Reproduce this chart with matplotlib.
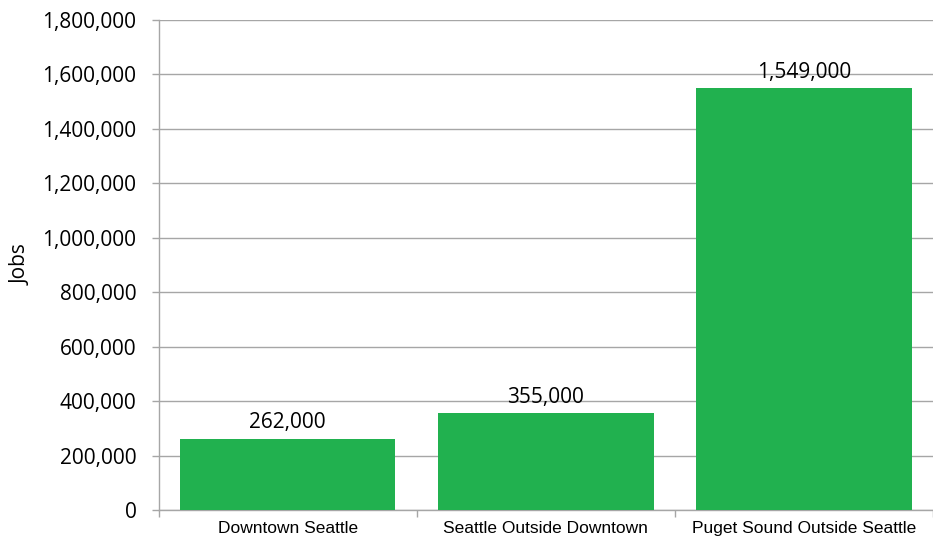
import matplotlib
matplotlib.use('Agg')
import matplotlib.pyplot as plt
from matplotlib.ticker import FuncFormatter, FixedLocator

categories = ['Downtown Seattle', 'Seattle Outside Downtown', 'Puget Sound Outside Seattle']
jobs = [262000, 355000, 1549000]
y_ticks = [0, 200000, 400000, 600000, 800000, 1000000, 1200000, 1400000, 1600000, 1800000]

bar_color = '#21B14F'
grid_color = '#A6A6A6'

fig = plt.figure(figsize=(9.33, 5.41), dpi=100)
ax = fig.add_axes([0.17, 0.0573, 0.83, 0.9057])

x = range(len(categories))
bars = ax.bar(x, jobs, width=0.835, color=bar_color, zorder=3)

# value labels above the bars
for b, v in zip(bars, jobs):
    ax.annotate(f'{v:,}', (b.get_x() + b.get_width() / 2, v),
                xytext=(0, 4), textcoords='offset points',
                ha='center', va='bottom', fontsize=15, family='Open Sans')

ax.set_xlim(-0.5, len(categories) - 0.5)
ax.set_ylim(0, 1800000)
ax.set_yticks(y_ticks)
ax.yaxis.set_major_formatter(FuncFormatter(lambda v, p: f'{int(v):,}'))
ax.grid(axis='y', color=grid_color, linewidth=1, zorder=0)

ax.set_xticks(list(x))
ax.set_xticklabels(categories, fontsize=12.5, family='Liberation Sans')
ax.tick_params(axis='x', which='major', length=0, pad=8)
ax.xaxis.set_minor_locator(FixedLocator([i - 0.5 for i in range(len(categories) + 1)]))
ax.tick_params(axis='x', which='minor', length=5, color=grid_color, width=1)

for lbl in ax.get_yticklabels():
    lbl.set_family('Open Sans')
    lbl.set_fontsize(15)
ax.tick_params(axis='y', length=5, color=grid_color, width=1, pad=11)

ax.set_ylabel('Jobs', fontsize=15, family='Open Sans', labelpad=8)

for s in ['top', 'right']:
    ax.spines[s].set_visible(False)
for s in ['left', 'bottom']:
    ax.spines[s].set_color(grid_color)
    ax.spines[s].set_linewidth(1)

fig.savefig('out.png', dpi=100)
